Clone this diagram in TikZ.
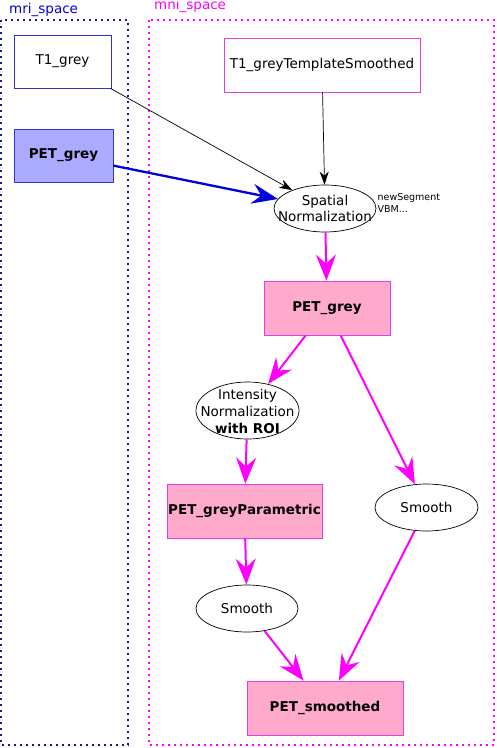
\documentclass[tikz,border=0pt]{standalone}
\usepackage{fontspec}
\setmainfont{DejaVu Sans}
\usetikzlibrary{arrows.meta,shapes.geometric}
\definecolor{mag}{HTML}{FF00FF}
\definecolor{magline}{HTML}{E040E0}
\definecolor{pinkfill}{HTML}{FFAACC}
\definecolor{navydot}{HTML}{1A1A8C}
\definecolor{blueline}{HTML}{3333CC}
\definecolor{bluefill}{HTML}{AAAAFF}
\definecolor{bluearrow}{HTML}{0000DD}
\begin{document}
\begin{tikzpicture}[x=1pt,y=-1pt,
  every node/.style={font=\fontsize{13.5}{18}\selectfont, inner sep=0pt},
  cluster/.style={line width=1.6pt, dash pattern=on 1.6pt off 4.4pt},
  mribox/.style={rectangle, draw=blueline, line width=0.8pt, fill=white},
  mrifill/.style={rectangle, draw=blueline, line width=0.8pt, fill=bluefill, font=\fontsize{13.5}{18}\selectfont\bfseries},
  mnibox/.style={rectangle, draw=magline, line width=0.8pt, fill=white},
  mnifill/.style={rectangle, draw=magline, line width=0.8pt, fill=pinkfill, font=\fontsize{13.5}{18}\selectfont\bfseries},
  proc/.style={ellipse, draw=black, line width=0.7pt, fill=white},
  proctext/.style={align=center},
  blk/.style={draw=black, line width=0.7pt, -{Stealth[length=13pt,width=9pt,inset=4pt]}},
  blu/.style={draw=bluearrow, line width=2.3pt, -{Stealth[length=26pt,width=20pt,inset=9pt]}},
  mg/.style={draw=mag, line width=2pt, -{Stealth[length=26pt,width=20pt,inset=9pt]}}
]
\useasboundingbox (0,0) rectangle (497,748);

% clusters
\draw[cluster, navydot] (1,20) rectangle (128,745);
\draw[cluster, mag] (149,20) rectangle (494,745);
\node[anchor=west, text=blue!85!black] (mrilab) at (9,10) {mri\_space};
\node[anchor=west, text=mag] (mnilab) at (154,5.5) {mni\_space};

% nodes
\node[mribox, minimum width=97pt, minimum height=53pt] (t1) at (62.5,61.5) {T1\_grey};
\node[mrifill, minimum width=99pt, minimum height=53pt] (petL) at (63.5,155.5) {PET\_grey};
\node[mnibox, minimum width=196pt, minimum height=54pt] (tmpl) at (322,65) {T1\_greyTemplateSmoothed};
\node[proc, minimum width=102pt, minimum height=47pt] (sn) at (325,208.5) {};
\node[proctext] (snt) at (325,208.5) {Spatial\\[-2pt]Normalization};
\node[anchor=west, align=left, font=\fontsize{9.5}{12}\selectfont] (note) at (377.5,203) {newSegment\\VBM...};
\node[mnifill, minimum width=126pt, minimum height=54pt] (petM) at (327,308) {PET\_grey};
\node[proc, minimum width=103pt, minimum height=57pt] (inorm) at (247.5,410.5) {};
\node[proctext] (inormt) at (247.5,411) {Intensity\\[-1pt]Normalization\\[-1pt]\textbf{with ROI}};
\node[mnifill, minimum width=155pt, minimum height=54pt] (petP) at (244.5,511) {PET\_greyParametric};
\node[proc, minimum width=103pt, minimum height=47pt] (smR) at (426.5,507.5) {};
\node[proctext] (smRt) at (426.5,507) {Smooth};
\node[proc, minimum width=102pt, minimum height=47pt] (smL) at (247,608.5) {};
\node[proctext] (smLt) at (247,608) {Smooth};
\node[mnifill, minimum width=156pt, minimum height=54pt] (petS) at (325,708) {PET\_smoothed};

% edges
\draw[blk] (t1) -- (sn);
\draw[blu] (petL) -- (sn);
\draw[blk] (tmpl) -- (sn);
\draw[mg] (sn) -- (petM);
\draw[mg] (petM) -- (inorm);
\draw[mg] (petM) -- (smR);
\draw[mg] (inorm) -- (petP);
\draw[mg] (petP) -- (smL);
\draw[mg] (smL) -- (petS);
\draw[mg] (smR) -- (petS);
\end{tikzpicture}
\end{document}
